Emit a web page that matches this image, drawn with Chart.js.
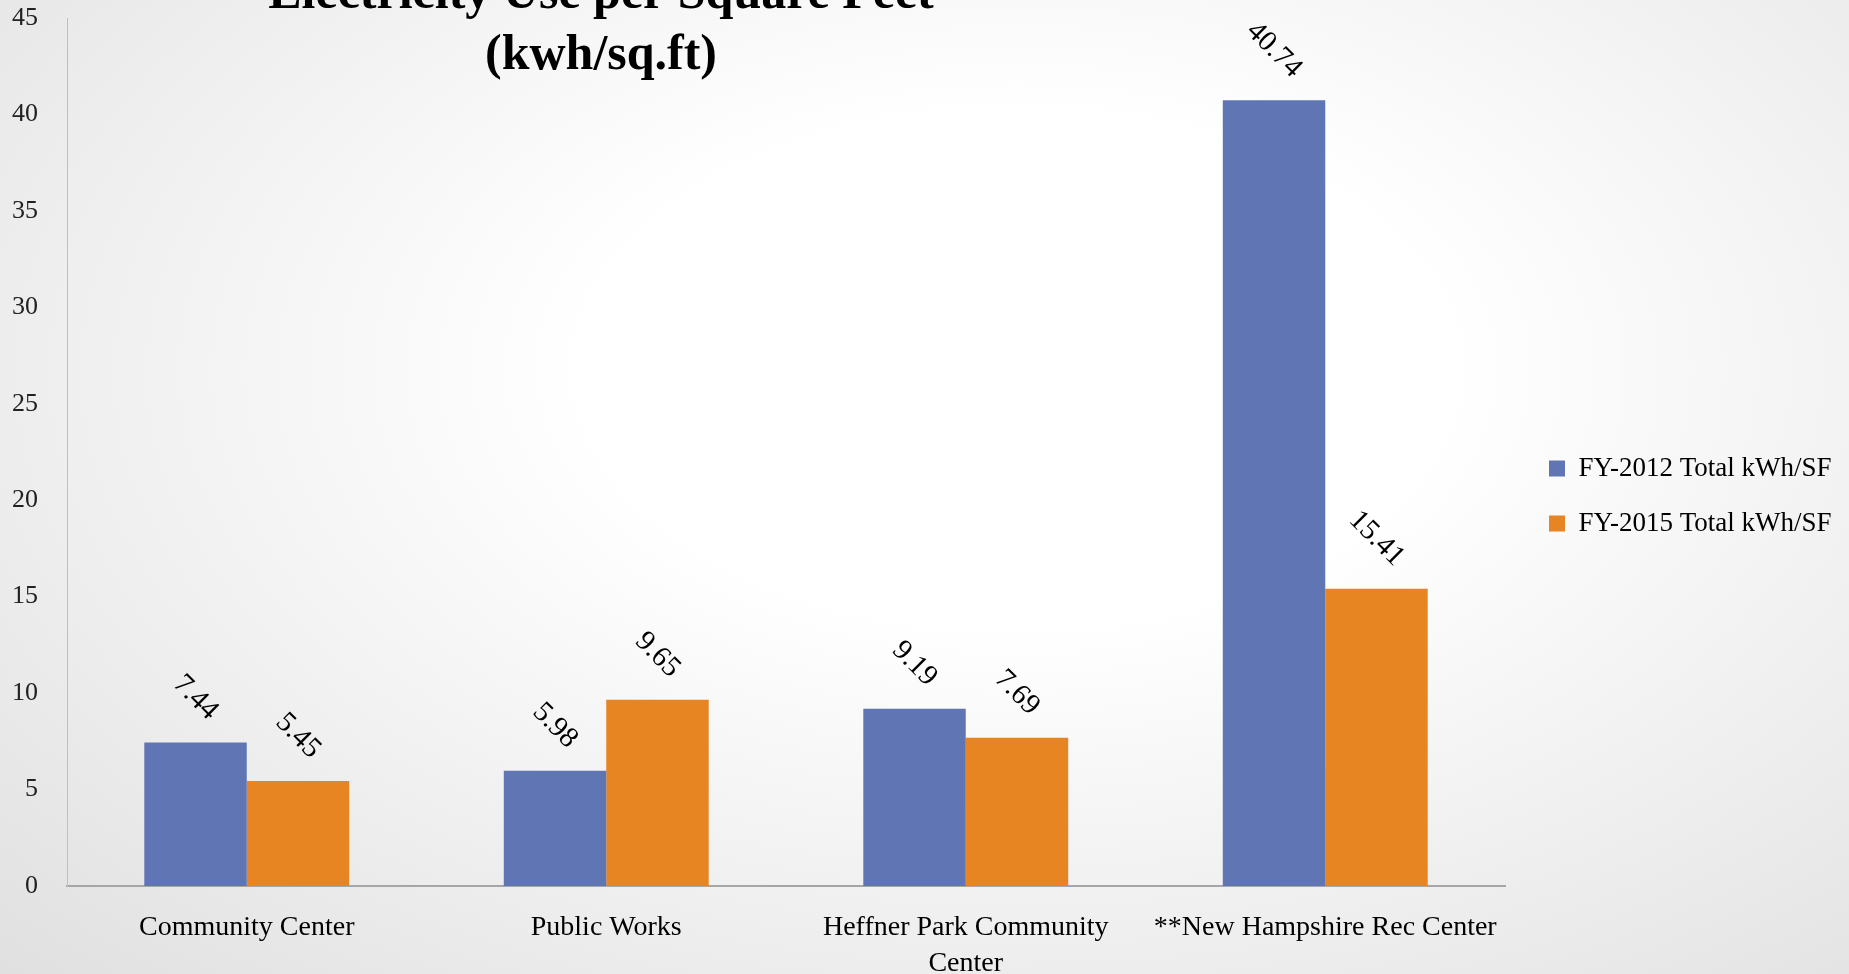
<!DOCTYPE html>
<html>
<head>
<meta charset="utf-8">
<script src="https://cdn.jsdelivr.net/npm/chart.js@4.4.1/dist/chart.umd.min.js"></script>
<style>
  html, body { margin: 0; padding: 0; overflow: hidden; }
  body {
    width: 1849px; height: 974px;
    background: radial-gradient(ellipse farthest-corner at 55% 38%, #ffffff 30%, #e0e0e0 100%);
  }
  #wrap { position: relative; width: 1849px; height: 974px; }
</style>
</head>
<body>
<div id="wrap"><canvas id="chart"></canvas></div>
<script>
// data
const categories = ['Community Center', 'Public Works', ['Heffner Park Community', 'Center'], '**New Hampshire Rec Center'];
const seriesNames = ['FY-2012 Total kWh/SF', 'FY-2015 Total kWh/SF'];
const fy2012 = [7.44, 5.98, 9.19, 40.74];
const fy2015 = [5.45, 9.65, 7.69, 15.41];
const titleLines = ['Electricity Use per Square Feet', '(kwh/sq.ft)'];

const serif = '"Liberation Serif", "Times New Roman", serif';

// rotated value labels above each bar
const barLabels = {
  id: 'barLabels',
  afterDatasetsDraw(chart) {
    const ctx = chart.ctx;
    ctx.save();
    ctx.font = '29px ' + serif;
    ctx.fillStyle = '#000';
    ctx.textAlign = 'center';
    ctx.textBaseline = 'middle';
    chart.data.datasets.forEach((ds, i) => {
      chart.getDatasetMeta(i).data.forEach((bar, j) => {
        const text = ds.data[j].toFixed(2);
        const w = ctx.measureText(text).width;
        const half = (w + 20) / (2 * Math.SQRT2);
        ctx.save();
        ctx.translate(bar.x, bar.y - 20 - half);
        ctx.rotate(Math.PI / 4);
        ctx.fillText(text, 0, 0);
        ctx.restore();
      });
    });
    ctx.restore();
  }
};

// title sits over the plot, first line cut by the top edge
const overTitle = {
  id: 'overTitle',
  afterDraw(chart) {
    const ctx = chart.ctx;
    ctx.save();
    ctx.font = 'bold 50px ' + serif;
    ctx.fillStyle = '#000';
    ctx.textAlign = 'center';
    ctx.textBaseline = 'alphabetic';
    ctx.fillText(titleLines[0], 601, 8);
    ctx.fillText(titleLines[1], 601, 69);
    ctx.restore();
  }
};

// legend: fixed width so the plot ends where the reference does
const legendPlace = {
  id: 'legendPlace',
  afterInit(chart) {
    const lg = chart.legend;
    const fit = lg.fit.bind(lg);
    lg.fit = function () { fit(); lg.width = 344; };
  },
  afterLayout(chart) {
    const lg = chart.legend;
    lg.left += 16;
    lg.right += 16;
  }
};

new Chart(document.getElementById('chart'), {
  type: 'bar',
  data: {
    labels: categories,
    datasets: [
      { label: seriesNames[0], data: fy2012, backgroundColor: '#6076B4' },
      { label: seriesNames[1], data: fy2015, backgroundColor: '#E68522' }
    ]
  },
  options: {
    responsive: true,
    maintainAspectRatio: false,
    animation: false,
    layout: { padding: { top: 18, left: 0, right: 0, bottom: 0 } },
    datasets: { bar: { categoryPercentage: 0.57, barPercentage: 1 } },
    plugins: {
      title: { display: false },
      tooltip: { enabled: false },
      legend: {
        position: 'right',
        labels: {
          boxWidth: 16,
          boxHeight: 16,
          padding: 28,
          color: '#000',
          font: { family: serif, size: 27 }
        }
      }
    },
    scales: {
      x: {
        grid: { display: false, drawTicks: false },
        border: { display: true, color: '#a6a6a6', width: 2 },
        ticks: {
          color: '#000',
          padding: 24,
          maxRotation: 0,
          autoSkip: false,
          font: { family: serif, size: 28, lineHeight: 1.27 }
        },
        afterFit(scale) { scale.height = 88; }
      },
      y: {
        min: 0,
        max: 45,
        grid: { display: false, drawTicks: false },
        border: { display: true, color: '#bfbfbf', width: 1 },
        ticks: {
          stepSize: 5,
          color: '#222',
          padding: 29,
          font: { family: serif, size: 26 }
        },
        afterFit(scale) {
          scale.width = 67;
          scale.paddingTop = 0;
          scale.paddingBottom = 0;
        }
      }
    }
  },
  plugins: [barLabels, overTitle, legendPlace]
});
</script>
</body>
</html>
